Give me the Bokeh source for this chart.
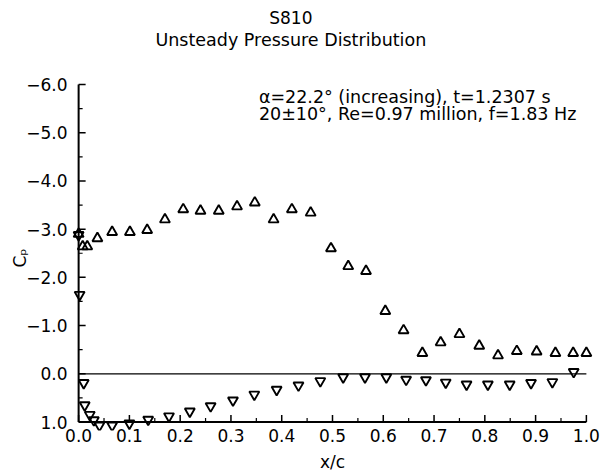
import math
from bokeh.plotting import figure
from bokeh.models import Range1d, FixedTicker, CustomJSTickFormatter, Label
from bokeh.embed import file_html
from bokeh.resources import INLINE

FONT = "DejaVu Sans"

# Upper surface (suction side), x/c and Cp
upper_x = [0.0, 0.008, 0.017, 0.037, 0.066, 0.101, 0.135, 0.170, 0.206, 0.240,
           0.276, 0.312, 0.347, 0.384, 0.420, 0.457, 0.497, 0.531, 0.566,
           0.604, 0.640, 0.677, 0.713, 0.750, 0.789, 0.826, 0.863, 0.902,
           0.939, 0.974, 1.0]
upper_cp = [-2.90, -2.64, -2.64, -2.81, -2.94, -2.94, -2.98, -3.20, -3.41, -3.38,
            -3.38, -3.47, -3.55, -3.20, -3.41, -3.34, -2.60, -2.23, -2.13,
            -1.30, -0.90, -0.43, -0.65, -0.82, -0.58, -0.38, -0.47, -0.46,
            -0.43, -0.43, -0.43]

# Lower surface (pressure side)
lower_x = [0.0, 0.002, 0.010, 0.012, 0.022, 0.030, 0.041, 0.066, 0.100, 0.137,
           0.178, 0.219, 0.260, 0.304, 0.346, 0.390, 0.433, 0.476, 0.521,
           0.564, 0.606, 0.645, 0.684, 0.723, 0.764, 0.806, 0.849, 0.891,
           0.933, 0.975]
lower_cp = [-2.88, -1.64, 0.19, 0.65, 0.85, 0.96, 1.07, 1.07, 1.03, 0.95,
            0.88, 0.78, 0.67, 0.55, 0.43, 0.33, 0.24, 0.15, 0.07,
            0.07, 0.07, 0.12, 0.13, 0.18, 0.22, 0.22, 0.22, 0.19,
            0.17, -0.04]

x_ticks = [0.0, 0.1, 0.2, 0.3, 0.4, 0.5, 0.6, 0.7, 0.8, 0.9, 1.0]
x_minor = [0.05, 0.15, 0.25, 0.35, 0.45, 0.55, 0.65, 0.75, 0.85, 0.95]
y_ticks = [-6.0, -5.0, -4.0, -3.0, -2.0, -1.0, 0.0, 1.0]
y_minor = [-5.5, -4.5, -3.5, -2.5, -1.5, -0.5, 0.5]

title_main = "S810"
title_sub = "Unsteady Pressure Distribution"
note1 = "\u03b1=22.2\u00b0 (increasing), t=1.2307 s"
note2 = "20\u00b110\u00b0, Re=0.97 million, f=1.83 Hz"

x0, x1 = x_ticks[0], x_ticks[-1]
y_top, y_bot = y_ticks[0], y_ticks[-1]

# frame extends beyond the axes so edge markers and titles are not clipped
p = figure(width=606, height=474, output_backend="svg", toolbar_location=None,
           x_range=Range1d(x0 - 0.016, x1 + 0.016),
           y_range=Range1d(y_bot + 0.176, y_top - 1.742),
           min_border_left=70, min_border_right=12, min_border_top=0,
           min_border_bottom=44)
p.outline_line_color = None
p.grid.visible = False
p.background_fill_color = "white"
p.border_fill_color = "white"

for ax in (p.xaxis[0], p.yaxis[0]):
    ax.axis_line_color = None
    ax.major_tick_line_color = None
    ax.minor_tick_line_color = None
    ax.major_label_text_font = FONT
    ax.major_label_text_font_size = "17px"
    ax.major_label_text_color = "black"
    ax.axis_label_text_font = FONT
    ax.axis_label_text_font_size = "17px"
    ax.axis_label_text_font_style = "normal"
    ax.axis_label_text_color = "black"

p.xaxis.ticker = FixedTicker(ticks=x_ticks)
p.yaxis.ticker = FixedTicker(ticks=y_ticks)
fmt = CustomJSTickFormatter(code="""
  const a = Math.abs(tick).toFixed(1);
  return tick < -1e-9 ? "\\u2212" + a : a;
""")
p.xaxis.formatter = fmt
p.yaxis.formatter = fmt
p.xaxis.major_label_standoff = -8
p.yaxis.major_label_standoff = -3
p.xaxis.axis_label = "x/c"
p.xaxis.axis_label_standoff = 7
# trailing em spaces centre the label on the -6..1 span rather than the frame
p.yaxis.axis_label = "C\u209a" + "\u2003" * 5
p.yaxis.axis_label_standoff = -7

# axis lines drawn at x/c = 0 and Cp = 1
p.segment(x0=[x0, x0], y0=[y_top, y_bot], x1=[x0, x1], y1=[y_bot, y_bot],
          line_color="black", line_width=2)
# tick marks pointing inward
p.ray(x=[x0] * len(y_ticks), y=y_ticks, length=7, length_units="screen",
      angle=0, line_color="black", line_width=1.5)
p.ray(x=[x0] * len(y_minor), y=y_minor, length=4, length_units="screen",
      angle=0, line_color="black", line_width=1.2)
p.ray(x=x_ticks, y=[y_bot] * len(x_ticks), length=7, length_units="screen",
      angle=math.pi / 2, line_color="black", line_width=1.5)
p.ray(x=x_minor, y=[y_bot] * len(x_minor), length=4, length_units="screen",
      angle=math.pi / 2, line_color="black", line_width=1.2)

# zero reference line across the chord
p.segment(x0=[x0], y0=[0.0], x1=[x1], y1=[0.0], line_color="black",
          line_width=1.3)

p.scatter(upper_x, upper_cp, marker="triangle", size=10, fill_color=None,
          line_color="black", line_width=1.9)
p.scatter(lower_x, lower_cp, marker="inverted_triangle", size=10,
          fill_color=None, line_color="black", line_width=1.9)

p.add_layout(Label(x=0.418, y=-7.369, text=title_main, text_font=FONT,
                   text_font_size="17px", text_align="center",
                   text_baseline="middle", text_color="black"))
p.add_layout(Label(x=0.418, y=-6.913, text=title_sub, text_font=FONT,
                   text_font_size="17.5px", text_align="center",
                   text_baseline="middle", text_color="black"))
p.add_layout(Label(x=0.355, y=-5.74, text=note1, text_font=FONT,
                   text_font_size="17.5px", text_baseline="middle",
                   text_color="black"))
p.add_layout(Label(x=0.355, y=-5.38, text=note2, text_font=FONT,
                   text_font_size="17.5px", text_baseline="middle",
                   text_color="black"))

open("out.html", "w").write(file_html(p, INLINE))
